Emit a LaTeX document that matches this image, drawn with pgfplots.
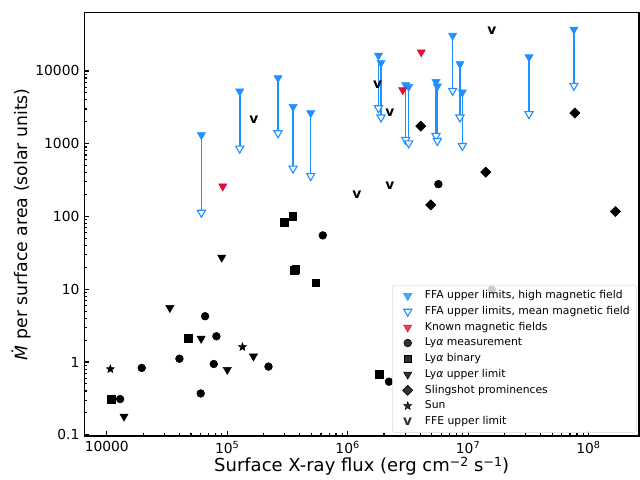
\documentclass[border=0pt]{standalone}
\usepackage{fontspec}
\setmainfont{DejaVu Sans}
\usepackage{pgfplots}
\usepackage{pgfplotstable}
\pgfplotsset{compat=1.18}

\definecolor{ffablue}{RGB}{30,144,255}
\definecolor{knownred}{RGB}{220,20,60}

\newcommand{\supx}[1]{\raisebox{3.3pt}{\fontsize{9.1}{9.1}\selectfont #1}}

% filled five-pointed star
\pgfdeclareplotmark{fstar}{%
  \pgfpathmoveto{\pgfpointpolar{90}{\pgfplotmarksize}}%
  \pgfpathlineto{\pgfpointpolar{126}{0.42\pgfplotmarksize}}%
  \pgfpathlineto{\pgfpointpolar{162}{\pgfplotmarksize}}%
  \pgfpathlineto{\pgfpointpolar{198}{0.42\pgfplotmarksize}}%
  \pgfpathlineto{\pgfpointpolar{234}{\pgfplotmarksize}}%
  \pgfpathlineto{\pgfpointpolar{270}{0.42\pgfplotmarksize}}%
  \pgfpathlineto{\pgfpointpolar{306}{\pgfplotmarksize}}%
  \pgfpathlineto{\pgfpointpolar{342}{0.42\pgfplotmarksize}}%
  \pgfpathlineto{\pgfpointpolar{18}{\pgfplotmarksize}}%
  \pgfpathlineto{\pgfpointpolar{54}{0.42\pgfplotmarksize}}%
  \pgfpathclose
  \pgfusepathqfillstroke
}

% FFA upper limits: flux, high field, mean field
\pgfplotstableread{
x       high   mean
61000   1320   113
127000  5250   861
264000  8020   1400
352000  3220   457
493000  2640   361
1.80e6  16300  3090
1.89e6  12900  2300
3.03e6  6410   1133
3.21e6  6080   1018
5.41e6  7130   1285
5.55e6  6140   1096
7.43e6  30600  5350
8.55e6  12500  2300
8.95e6  5090   935
3.20e7  15500  2560
7.55e7  37100  6280
}\ffa

\begin{document}
\begin{tikzpicture}
\begin{axis}[
    name=ax,
    scale only axis,
    width=5.55in, height=4.24in,
    xmode=log, ymode=log,
    xmin=6500, xmax=2.62e8,
    ymin=0.096, ymax=64000,
    xtick={1e4,1e5,1e6,1e7,1e8},
    xticklabels={10000,10\textsuperscript{5},10\textsuperscript{6},10\textsuperscript{7},10\textsuperscript{8}},
    ytick={0.1,1,10,100,1000,10000},
    yticklabels={0.1,1,10,100,1000,10000},
    tick align=inside, tick pos=left,
    major tick length=3.5pt, minor tick length=2pt,
    every tick/.style={black, line width=0.8pt},
    axis line style={black, line width=1pt},
    ticklabel style={font=\fontsize{10}{12}\selectfont},
    xlabel={Surface X-ray flux (erg cm\supx{−2} s\supx{−1})},
    ylabel={\textit{Ṁ} per surface area (solar units)},
    xlabel style={font=\fontsize{13}{15}\selectfont, at={(axis description cs:0.5,-0.0705)}, anchor=center},
    ylabel style={font=\fontsize{12.5}{15}\selectfont, at={(axis description cs:-0.1135,0.5)}, anchor=center},
    legend cell align=left,
    legend image code/.code={%
        \path (-0.28cm,0cm) (0.36cm,0cm);
        \draw[mark repeat=2, mark phase=2, #1] plot coordinates {(-0.3cm,0cm) (0cm,0cm) (0.3cm,0cm)};},
    legend style={at={(1,0)}, anchor=south east, xshift=-1.5pt, yshift=2.5pt,
        font=\fontsize{7.8}{9.4}\selectfont, draw=black!15, rounded corners=2pt,
        fill=white, fill opacity=0.8, text opacity=1, row sep=0pt},
]
% connecting lines high -> mean
\addplot[ffablue, line width=1.1pt, unbounded coords=jump, forget plot] coordinates {
(61000,1320)(61000,113)(61000,nan)
(127000,5250)(127000,861)(127000,nan)
(264000,8020)(264000,1400)(264000,nan)
(352000,3220)(352000,457)(352000,nan)
(493000,2640)(493000,361)(493000,nan)
(1.80e6,16300)(1.80e6,3090)(1.80e6,nan)
(1.89e6,12900)(1.89e6,2300)(1.89e6,nan)
(3.03e6,6410)(3.03e6,1133)(3.03e6,nan)
(3.21e6,6080)(3.21e6,1018)(3.21e6,nan)
(5.41e6,7130)(5.41e6,1285)(5.41e6,nan)
(5.55e6,6140)(5.55e6,1096)(5.55e6,nan)
(7.43e6,30600)(7.43e6,5350)(7.43e6,nan)
(8.55e6,12500)(8.55e6,2300)(8.55e6,nan)
(8.95e6,5090)(8.95e6,935)(8.95e6,nan)
(3.20e7,15500)(3.20e7,2560)(3.20e7,nan)
(7.55e7,37100)(7.55e7,6280)
};

\addplot[only marks, mark=triangle*, mark size=3.4pt,
    mark options={rotate=180, fill=ffablue, draw=ffablue}]
    table[x=x, y=high] {\ffa};
\addlegendentry{FFA upper limits, high magnetic field}

\addplot[only marks, mark=triangle*, mark size=3.4pt,
    mark options={rotate=180, fill=white, draw=ffablue, line width=0.8pt}]
    table[x=x, y=mean] {\ffa};
\addlegendentry{FFA upper limits, mean magnetic field}

\addplot[only marks, mark=triangle*, mark size=3.4pt,
    mark options={rotate=180, fill=knownred, draw=knownred}]
    coordinates {(91800,260)(4.08e6,18100)(2.86e6,5470)};
\addlegendentry{Known magnetic fields}

\addplot[only marks, mark=*, mark size=2.8pt, mark options={fill=black, draw=black}]
    coordinates {(65500,4.26)(81300,2.26)(40100,1.11)(77300,0.94)(220000,0.865)
    (19500,0.83)(60200,0.37)(12900,0.31)(621000,55)(5.66e6,278)(2.2e6,0.537)(1.57e7,9.93)};
\addlegendentry{Ly\textit{α} measurement}

\addplot[only marks, mark=square*, mark size=2.8pt, mark options={fill=black, draw=black}]
    coordinates {(10900,0.31)(47300,2.1)(299000,82.4)(350000,99.6)(362000,18.2)
    (370000,19.0)(542000,12.3)(1.83e6,0.685)};
\addlegendentry{Ly\textit{α} binary}

\addplot[only marks, mark=triangle*, mark size=3.4pt,
    mark options={rotate=180, fill=black, draw=black}]
    coordinates {(33400,5.56)(60700,2.1)(165000,1.2)(100000,0.785)(13900,0.179)(90000,27.4)};
\addlegendentry{Ly\textit{α} upper limit}

\addplot[only marks, mark=square*, mark size=2.6pt,
    mark options={rotate=45, fill=black, draw=black}]
    coordinates {(4.04e6,1746)(1.40e7,406)(7.69e7,2636)(1.67e8,117)(4.89e6,144)};
\addlegendentry{Slingshot prominences}

\addplot[only marks, mark=fstar, mark size=3pt, mark options={fill=black, draw=black}]
    coordinates {(10700,0.80)(133700,1.61)};
\addlegendentry{Sun}

\addplot[only marks, mark=text, text mark={\bfseries\fontsize{10}{10}\selectfont v}]
    coordinates {(166000,2113)(1.19e6,202)(1.77e6,6560)(2.24e6,269)(2.24e6,2636)(1.57e7,35900)};
\addlegendentry{FFE upper limit}
\end{axis}
\path ([xshift=-0.843in,yshift=-0.385in]ax.south west) ([xshift=0.01in,yshift=0.123in]ax.north east);
\end{tikzpicture}
\end{document}
